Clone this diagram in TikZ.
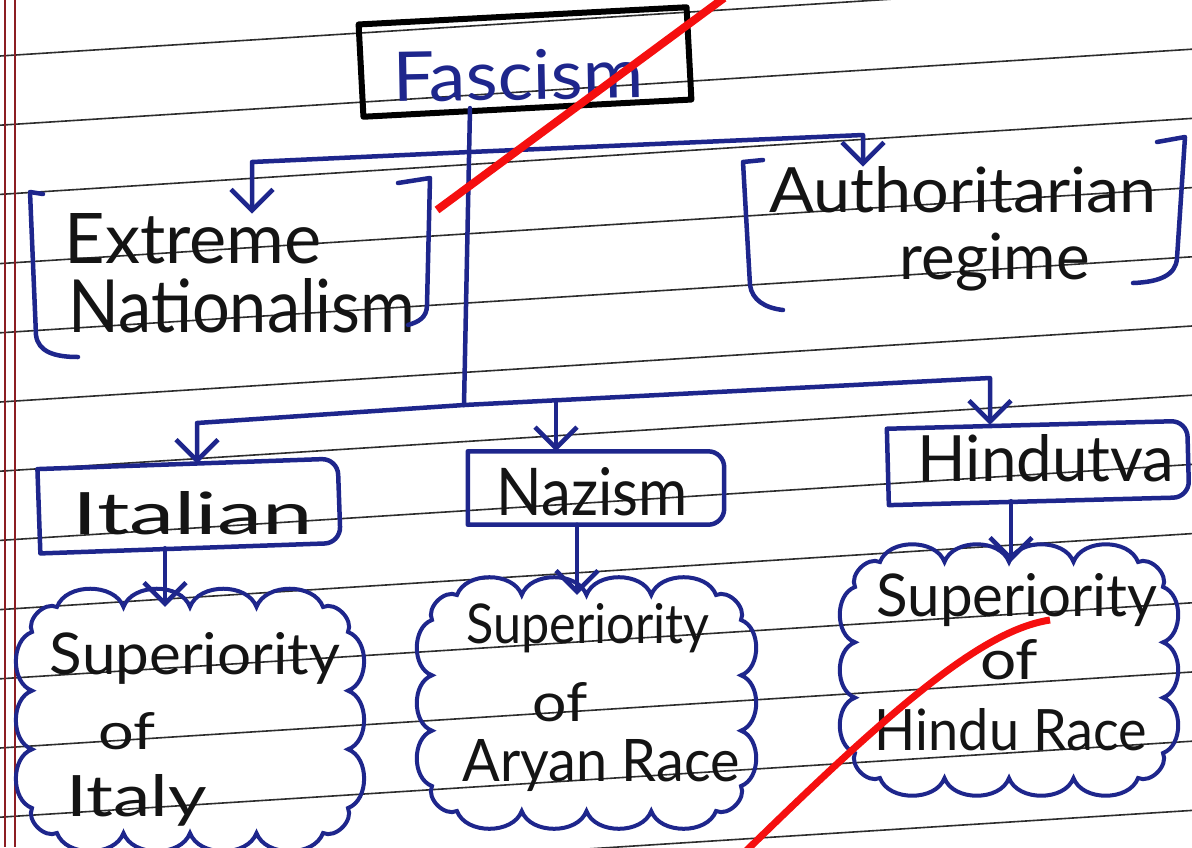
\documentclass[tikz,border=0pt]{standalone}
\usepackage{fontspec}
\setmainfont{Lato}
\usetikzlibrary{arrows.meta}
\definecolor{ink}{RGB}{30,38,140}
\definecolor{pen}{RGB}{20,20,20}
\definecolor{rulegray}{RGB}{45,45,45}
\definecolor{margin}{RGB}{140,30,35}
\definecolor{redpen}{RGB}{245,15,15}
\newcommand{\hw}[3]{\resizebox{#1pt}{#2pt}{#3}}
\newcommand{\hwx}[2]{\resizebox{#1pt}{!}{#2}}
% cloud outline: x0 y0 x1 y1 (inner rectangle), bumps on top/bottom, bumps on sides
\newcommand{\drawcloud}[6]{%
\draw[cloudline] (#1+25,#2)
  \foreach \i in {1,...,#5} { to[bend left=70] ({#1+25+(#3-#1-50)*\i/#5},#2) }
  to[bend left=70] (#3,#2+25)
  \foreach \i in {1,...,#6} { to[bend left=70] (#3,{#2+25+(#4-#2-50)*\i/#6}) }
  to[bend left=70] (#3-25,#4)
  \foreach \i in {1,...,#5} { to[bend left=70] ({#3-25-(#3-#1-50)*\i/#5},#4) }
  to[bend left=70] (#1,#4-25)
  \foreach \i in {1,...,#6} { to[bend left=70] (#1,{#4-25-(#4-#2-50)*\i/#6}) }
  to[bend left=70] (#1+25,#2) -- cycle;}
\begin{document}
\begin{tikzpicture}[x=1pt,y=-1pt,
  inkline/.style={draw=ink,line width=4.5pt,line cap=round,line join=round},
  arr/.style={inkline,-{Straight Barb[length=21pt,width=42pt,line width=4.5pt]}},
  lbl/.style={inner sep=0pt,text=pen},
  boxnode/.style={inner sep=0pt,draw=none},
  cloudline/.style={draw=ink,line width=4pt,line join=miter},
]
\useasboundingbox (0,0) rectangle (1192,847);
\clip (0,0) rectangle (1192,847);
\fill[white] (0,0) rectangle (1192,847);
% ruled paper
\foreach \k in {0,...,12} {
  \draw[rulegray,line width=1.6pt] (0,{56+69.2*\k}) -- (1192,{56+69.2*\k-76});
}
\draw[margin,line width=1.5pt] (5,0) -- (5,847);
\draw[margin,line width=1.5pt] (15,0) -- (15,847);

% Fascism
\node[boxnode,minimum width=328pt,minimum height=92pt,rotate=3] (fascism) at (525,62) {};
\draw[black,line width=6pt,line join=round] (fascism.north west) -- (fascism.north east) -- (fascism.south east) -- (fascism.south west) -- cycle;
\node[lbl,text=ink,rotate=1] (fascismtxt) at (518,75) {\hw{250}{50}{Fascism}};

% Extreme Nationalism
\node[lbl] (extremetxt) at (193,239) {\hw{257}{50}{Extreme}};
\node[lbl] (nattxt) at (242,306) {\hw{347}{54}{Nationalism}};
\draw[inkline] (43,194) -- (30,192) -- (36,335) .. controls (38,352) and (55,357) .. (78,357);
\draw[inkline] (398,183) -- (430,178) -- (427,305) .. controls (427,318) and (418,322) .. (408,325);

% Authoritarian regime
\node[lbl] (authtxt) at (963,190) {\hw{387}{46}{Authoritarian}};
\node[lbl] (regtxt) at (995,262) {\hwx{190}{regime}};
\draw[inkline] (763,160) -- (743,162) -- (750,285) .. controls (752,300) and (765,308) .. (783,310);
\draw[inkline] (1157,142) -- (1185,137) -- (1177,258) .. controls (1176,275) and (1160,282) .. (1133,283);

% second row boxes
\node[boxnode,minimum width=300pt,minimum height=84pt,rotate=2] (italian) at (189,506) {};
\draw[inkline] (italian.north west) [rounded corners=16pt] -- (italian.north east) -- (italian.south east) [sharp corners] -- (italian.south west) -- cycle;
\node[lbl] (italiantxt) at (193,513) {\hw{240}{43}{Italian}};

\node[boxnode,minimum width=256pt,minimum height=73pt] (nazism) at (596,488) {};
\draw[inkline] (nazism.north west) [rounded corners=16pt] -- (nazism.north east) -- (nazism.south east) [sharp corners] -- (nazism.south west) -- cycle;
\node[lbl] (nazismtxt) at (592,492) {\hw{191}{48}{Nazism}};

\node[boxnode,minimum width=300pt,minimum height=76pt,rotate=1.5] (hindutva) at (1038,463) {};
\draw[inkline] (hindutva.north west) [rounded corners=16pt] -- (hindutva.north east) -- (hindutva.south east) [sharp corners] -- (hindutva.south west) -- cycle;
\node[lbl] (hindutvatxt) at (1046,458) {\hw{257}{47}{Hindutva}};

% clouds
\node[boxnode,minimum width=316pt,minimum height=226pt] (cloud1) at (190,720) {};
\drawcloud{32}{607}{348}{833}{4}{3}
\node[lbl] (sup1) at (195,658) {\hw{290}{42}{Superiority}};
\node[lbl] (of1) at (127,731) {\hw{57}{37}{of}};
\node[lbl] (italy) at (137,800) {\hw{140}{42}{Italy}};

\node[boxnode,minimum width=309pt,minimum height=216pt] (cloud2) at (586.5,703) {};
\drawcloud{432}{595}{741}{811}{4}{3}
\node[lbl] (sup2) at (588,628) {\hw{243}{40}{Superiority}};
\node[lbl] (of2) at (560,702) {\hw{55}{39}{of}};
\node[lbl] (aryan) at (601,766) {\hw{277}{42}{Aryan Race}};

\node[boxnode,minimum width=308pt,minimum height=216pt] (cloud3) at (1009,670) {};
\drawcloud{855}{562}{1163}{778}{4}{3}
\node[lbl] (sup3) at (1017,600) {\hw{281}{43}{Superiority}};
\node[lbl] (of3) at (1009,660) {\hw{58}{40}{of}};
\node[lbl] (hindu) at (1011,730) {\hw{272}{42}{Hindu Race}};

% connectors
\coordinate (j1) at (470,152);
\coordinate (j2) at (464,405);
\coordinate (jl) at (252,162);
\coordinate (jr) at (863,135);
\coordinate (jL) at (197,423);
\coordinate (jM) at (556,400);
\coordinate (jR) at (990,378);
\coordinate (xa) at (165,0);
\coordinate (xb) at (577,0);
\coordinate (xc) at (1011,0);
\draw[inkline] (fascism.south -| j1) -- (j2);
\draw[arr] (j1) -- (jl) -- (extremetxt.north -| jl);
\draw[arr] (j1) -- (jr) -- (authtxt.north -| jr);
\draw[arr] (j2) -- (jL) -- (italian.north -| jL);
\draw[arr] (jM) -- (nazism.north -| jM);
\draw[arr] (j2) -- (jR) -- (hindutva.north -| jR);
\draw[arr] (italian.south -| xa) -- (cloud1.north -| xa);
\draw[arr] (nazism.south -| xb) -- (cloud2.north -| xb);
\draw[arr] (hindutva.south -| xc) -- (cloud3.north -| xc);

% red strokes
\draw[redpen,line width=8pt] (437,210) -- (724,-2);
\draw[redpen,line width=7pt] (1050,620) .. controls (985,630) and (900,700) .. (745,852);
\end{tikzpicture}
\end{document}
